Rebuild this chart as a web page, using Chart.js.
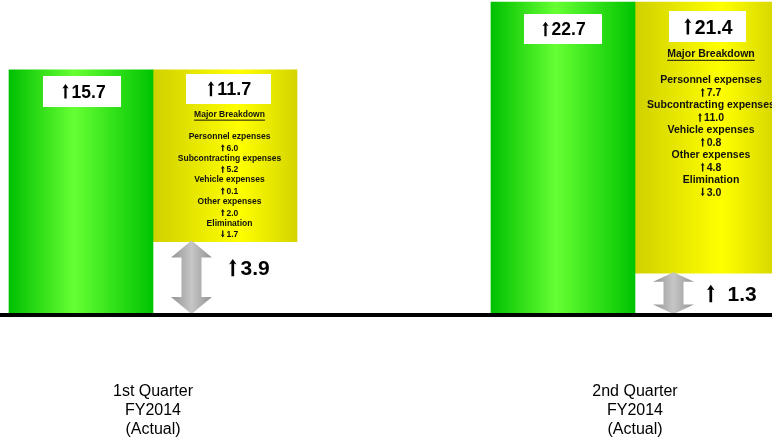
<!DOCTYPE html>
<html><head><meta charset="utf-8">
<script src="https://cdn.jsdelivr.net/npm/chart.js@4.4.0/dist/chart.umd.min.js"></script>
<style>
html,body{margin:0;padding:0;background:#fff;overflow:hidden;width:772px;height:446px;}
#wrap{position:absolute;left:-88px;top:0;width:964px;height:446px;}
</style></head><body>
<div id="wrap"><canvas id="c"></canvas></div>
<script>
// ---- data ----
const categories = [['1st Quarter','FY2014','(Actual)'], ['2nd Quarter','FY2014','(Actual)']];
const revenueIncrease = [15.7, 22.7];   // green box labels
const expenseIncrease = [11.7, 21.4];   // yellow box labels
const profitIncrease  = [3.9, 1.3];     // grey arrow labels
// bar extents as drawn (the original picture is not drawn to scale)
const revenueBarTop    = [15.7, 20.07];
const expenseBarBottom = [4.66, 2.62];
const expenseBarTop    = [15.7, 20.07];
const breakdownTitle = 'Major Breakdown';
const breakdownItems = [
  ['Personnel ezpenses','Subcontracting expenses','Vehicle expenses','Other expenses','Elimination'],
  ['Personnel expenses','Subcontracting expenses','Vehicle expenses','Other expenses','Elimination']
];
const breakdownValues = [[6.0, 5.2, 0.1, 2.0, -1.7], [7.7, 11.0, 0.8, 4.8, -3.0]];
const axisMax = 20.2;

// ---- styling ----
const FONT = '"Liberation Sans", Arial, sans-serif';
const BAR_W = 144;
const greenStops  = [[0,'#00c000'],[0.45,'#66ff33'],[1,'#00c400']];
const yellowStops = [[0,'#d0d000'],[0.6,'#ffff00'],[1,'#d4d400']];
const greyStops   = [[0,'#939393'],[0.5,'#c6c6c6'],[1,'#939393']];
const GB = [{dx:1,dy:6,w:78,h:31,font:17.5,shift:2},{dx:0,dy:12,w:78,h:30,font:17.5,shift:1}];
const YB = [{dx:3.5,dy:4,w:85,h:30,font:18,shift:1},{dx:0.5,dy:9,w:77,h:31,font:19.5,shift:1}];
const BD = [{dx:4.5,titleDy:45,startDy:67,step:10.8,font:8.5},{dx:4,titleDy:52,startDy:78,step:12.45,font:10.5}];
const PL = [{arrowDx:76,gap:4,dy:-10,font:21},{arrowDx:72,gap:13,dy:0,font:21}];

function arrowNum(ctx, v, x, cy, size, gap, align, color){
  const num = Math.abs(v).toFixed(1);
  ctx.font = 'bold '+size+'px '+FONT;
  const nw = ctx.measureText(num).width;
  const aw = Math.max(4, size*0.36);
  const left = align === 'center' ? x - (aw + gap + nw)/2 : x;
  const base = cy + size*0.358;
  const top = base - size*0.78, bot = base + size*0.05;
  const ax = left + aw/2, sw = Math.max(1.3, size*0.13), hh = Math.max(3, size*0.26);
  ctx.fillStyle = color;
  ctx.beginPath();
  if (v >= 0){
    ctx.moveTo(ax, top); ctx.lineTo(ax+aw/2, top+hh); ctx.lineTo(ax+sw/2, top+hh*0.85);
    ctx.lineTo(ax+sw/2, bot); ctx.lineTo(ax-sw/2, bot); ctx.lineTo(ax-sw/2, top+hh*0.85);
    ctx.lineTo(ax-aw/2, top+hh);
  } else {
    ctx.moveTo(ax, bot); ctx.lineTo(ax+aw/2, bot-hh); ctx.lineTo(ax+sw/2, bot-hh*0.85);
    ctx.lineTo(ax+sw/2, top); ctx.lineTo(ax-sw/2, top); ctx.lineTo(ax-sw/2, bot-hh*0.85);
    ctx.lineTo(ax-aw/2, bot-hh);
  }
  ctx.closePath(); ctx.fill();
  ctx.textAlign = 'left'; ctx.textBaseline = 'alphabetic';
  ctx.fillText(num, left + aw + gap, base);
}

function barGradient(c, stops, side){
  const ch = c.chart, xs = ch.scales && ch.scales.x;
  if (c.type !== 'data' || !xs) return stops[1][1];
  const cx = xs.getPixelForValue(c.dataIndex);
  if (!isFinite(cx)) return stops[1][1];
  const l = side < 0 ? cx - BAR_W : cx;
  const g = ch.ctx.createLinearGradient(l,0,l+BAR_W,0);
  stops.forEach(s=>g.addColorStop(s[0], s[1]));
  return g;
}

function valueBox(ctx, cx, top, spec, v){
  ctx.fillStyle = '#fff';
  ctx.fillRect(Math.round(cx-spec.w/2), Math.round(top), spec.w, spec.h);
  arrowNum(ctx, v, cx + spec.shift, top + spec.h/2, spec.font, spec.font*0.17, 'center', '#000');
}

function doubleArrow(ctx, cx, y0, y1, hw, sw){
  const len = y1 - y0, h = len*0.23;
  const g = ctx.createLinearGradient(cx-hw/2,0,cx+hw/2,0);
  greyStops.forEach(s=>g.addColorStop(s[0], s[1]));
  ctx.fillStyle = g;
  ctx.beginPath();
  ctx.moveTo(cx, y0);
  ctx.lineTo(cx+hw/2, y0+h); ctx.lineTo(cx+sw/2, y0+h);
  ctx.lineTo(cx+sw/2, y1-h); ctx.lineTo(cx+hw/2, y1-h);
  ctx.lineTo(cx, y1);
  ctx.lineTo(cx-hw/2, y1-h); ctx.lineTo(cx-sw/2, y1-h);
  ctx.lineTo(cx-sw/2, y0+h); ctx.lineTo(cx-hw/2, y0+h);
  ctx.closePath(); ctx.fill();
}

const overlay = {
  id:'overlay',
  afterDatasetsDraw(chart){
    const ctx = chart.ctx, ys = chart.scales.y, area = chart.chartArea;
    const zero = ys.getPixelForValue(0);
    const gBars = chart.getDatasetMeta(0).data, eBars = chart.getDatasetMeta(1).data;
    ctx.save();
    categories.forEach((cat,i)=>{
      const g = gBars[i].getProps(['x','y','base','width'], true);
      const e = eBars[i].getProps(['x','y','base','width'], true);
      const gt = Math.min(g.y, g.base);
      const el = e.x - e.width/2, et = Math.min(e.y, e.base), eb = Math.max(e.y, e.base);
      valueBox(ctx, g.x+GB[i].dx, gt+GB[i].dy, GB[i], revenueIncrease[i]);
      valueBox(ctx, e.x+YB[i].dx, et+YB[i].dy, YB[i], expenseIncrease[i]);
      const bd = BD[i], tx = e.x + bd.dx;
      ctx.fillStyle = '#111';
      ctx.textAlign = 'center'; ctx.textBaseline = 'middle';
      ctx.font = 'bold '+bd.font+'px '+FONT;
      const ty = et + bd.titleDy;
      ctx.fillText(breakdownTitle, tx, ty);
      const tw = ctx.measureText(breakdownTitle).width;
      ctx.fillRect(tx - tw/2, ty + bd.font*0.55, tw, 1);
      let y = et + bd.startDy;
      breakdownItems[i].forEach((name,k)=>{
        ctx.fillStyle = '#111';
        ctx.font = 'bold '+bd.font+'px '+FONT;
        ctx.textAlign = 'center'; ctx.textBaseline = 'middle';
        ctx.fillText(name, tx, y); y += bd.step;
        arrowNum(ctx, breakdownValues[i][k], tx, y, bd.font, bd.font*0.2, 'center', '#111');
        y += bd.step;
      });
      doubleArrow(ctx, el+38.5, eb-1, zero, 41, 20);
      const pl = PL[i], ly = (eb+zero)/2 + pl.dy;
      arrowNum(ctx, profitIncrease[i], el+pl.arrowDx, ly, pl.font, pl.gap, 'left', '#000');
    });
    ctx.fillStyle = '#000';
    ctx.fillRect(area.left, zero-1, area.right-area.left, 4);
    ctx.restore();
  }
};

const chart = new Chart(document.getElementById('c'), {
  type:'bar',
  data:{
    labels: categories,
    datasets:[
      {label:'Revenue increase', data: revenueBarTop.map(v=>[0,v]),
       backgroundColor: c=>barGradient(c, greenStops, -1), barThickness:BAR_W, borderWidth:0},
      {label:'Expense increase', data: expenseBarBottom.map((b,i)=>[b, expenseBarTop[i]]),
       backgroundColor: c=>barGradient(c, yellowStops, 1), barThickness:BAR_W, borderWidth:0}
    ]
  },
  options:{
    responsive:true, maintainAspectRatio:false, animation:false, events:[],
    layout:{padding:0},
    plugins:{legend:{display:false}, tooltip:{enabled:false}},
    scales:{
      x:{ grid:{display:false, drawTicks:false}, border:{display:false},
          ticks:{padding:68, color:'#000', font:{family:FONT, size:16, lineHeight:1.2}, maxRotation:0, autoSkip:false},
          afterFit: s=>{ s.height = 132; } },
      y:{ display:false, min:0, max:axisMax }
    }
  },
  plugins:[overlay]
});
chart.update();
</script>
</body></html>
